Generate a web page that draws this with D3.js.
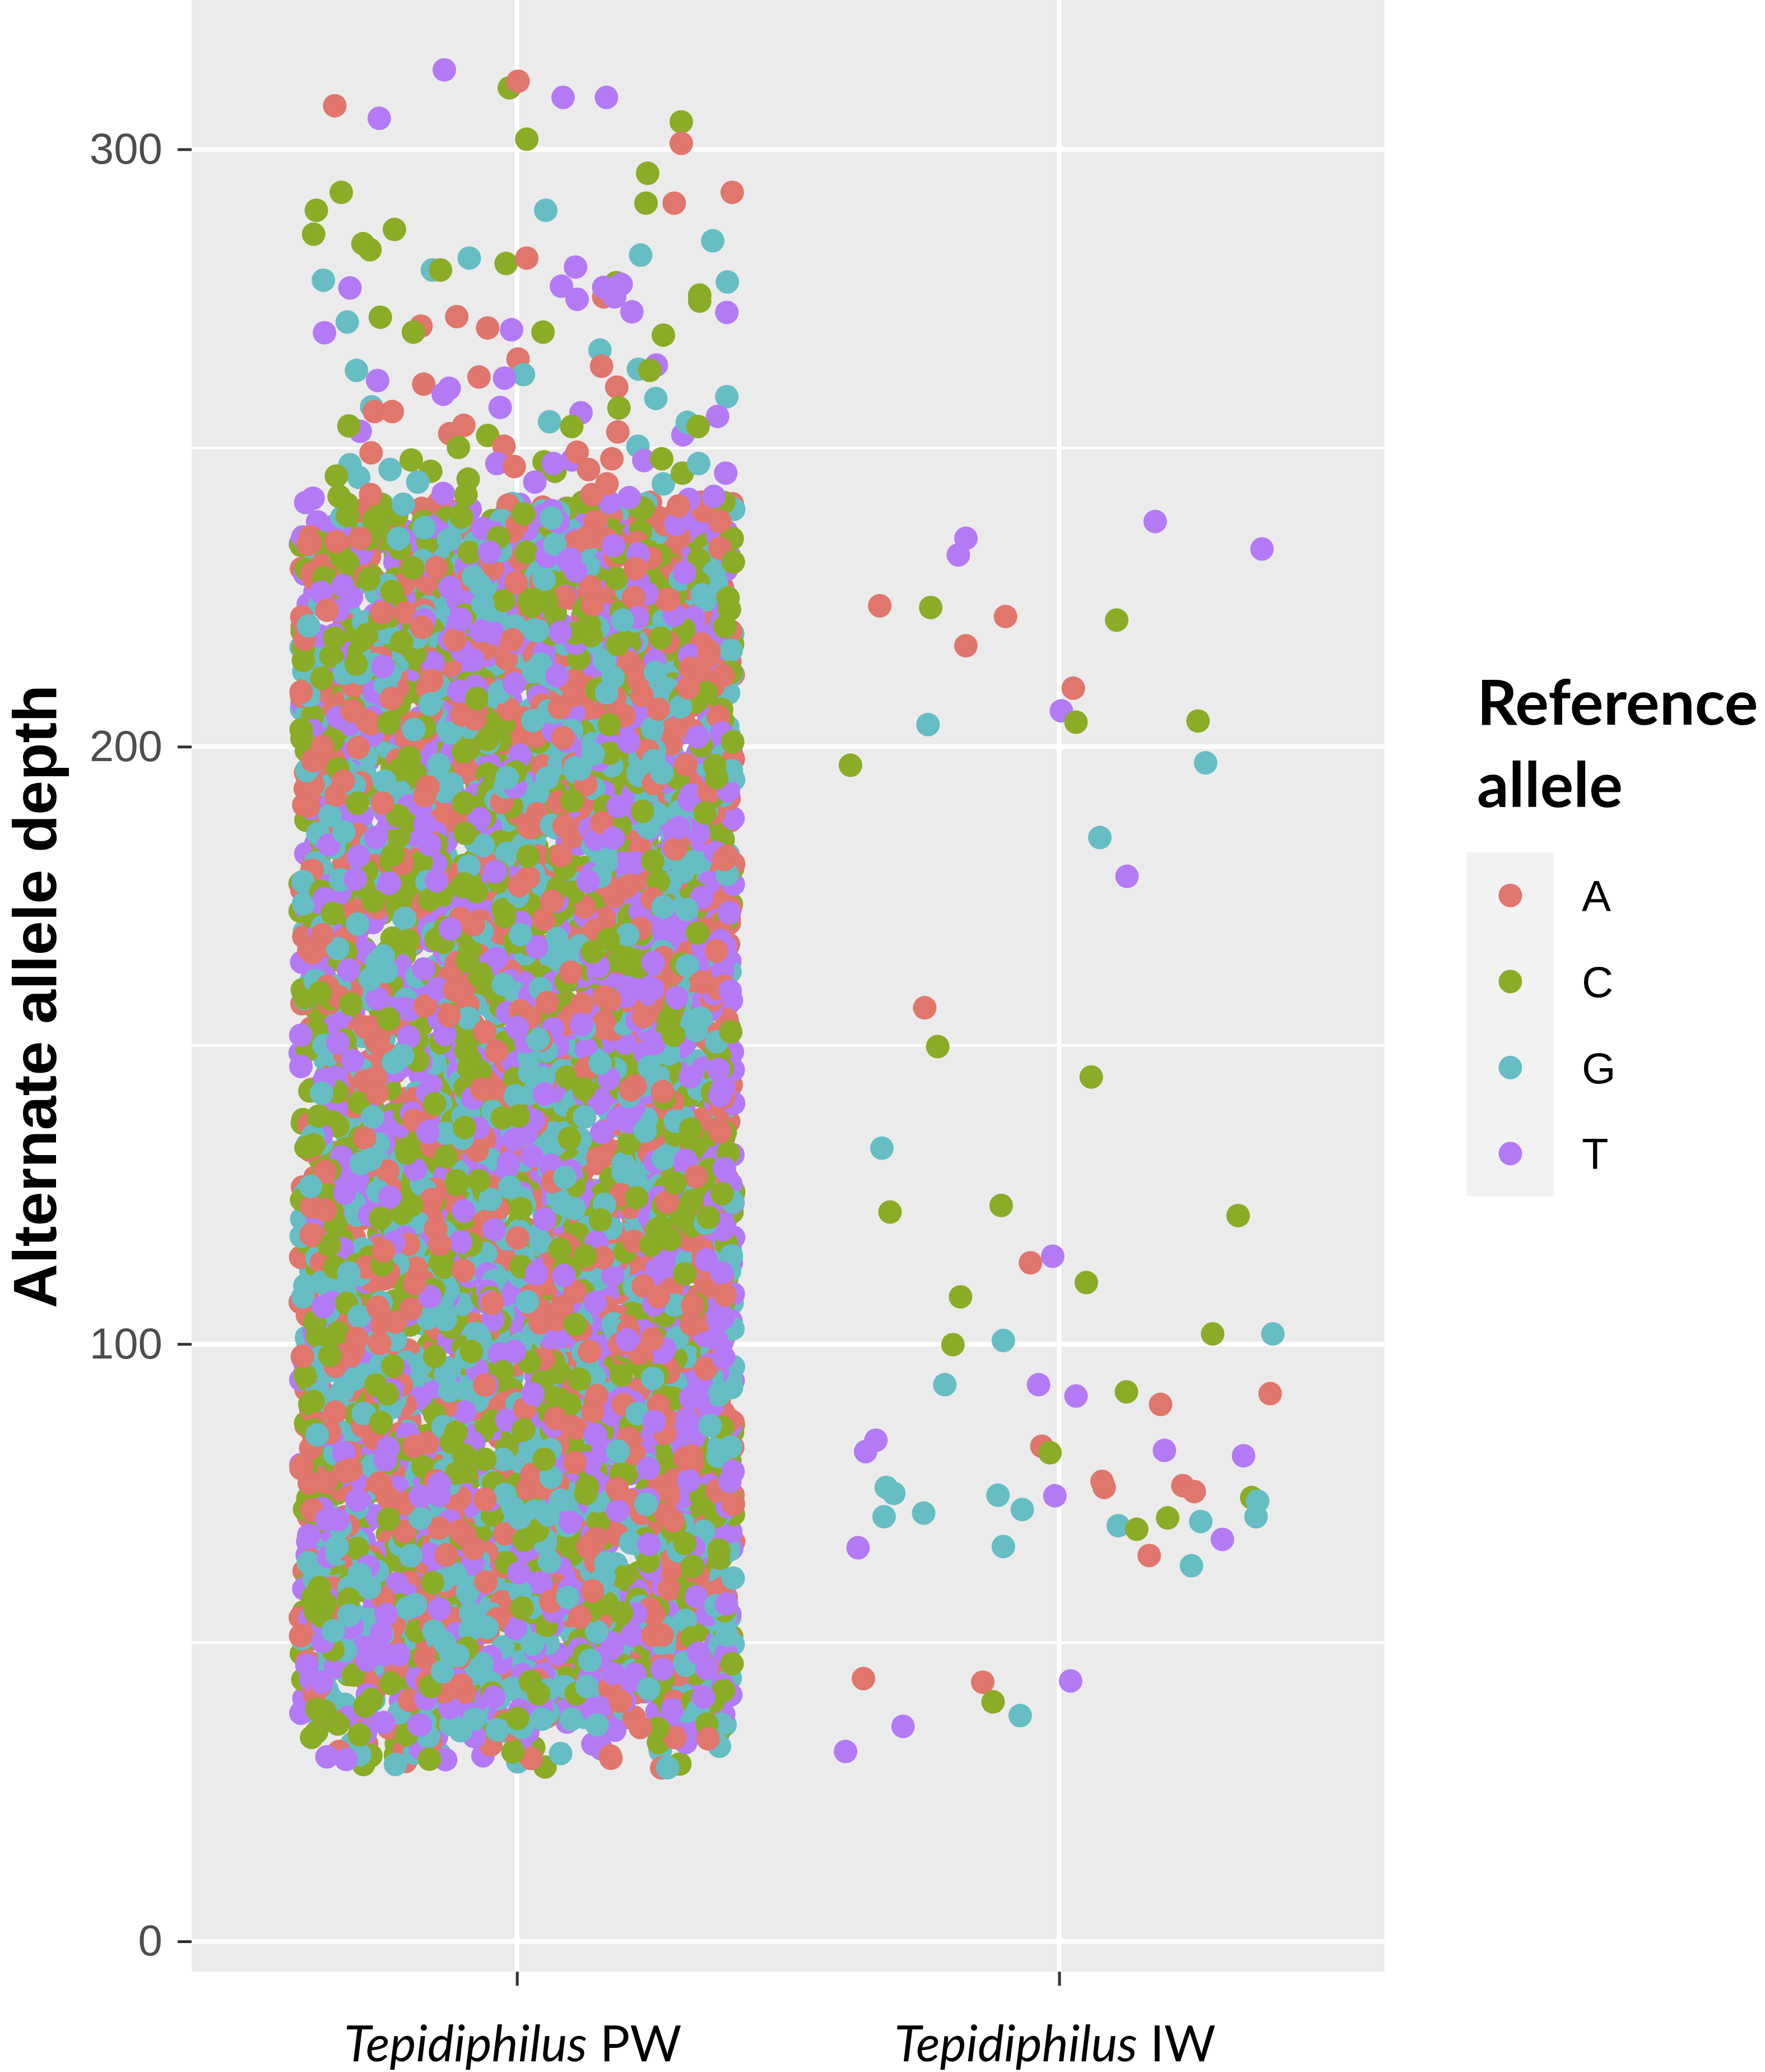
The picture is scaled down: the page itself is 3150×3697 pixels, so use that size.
<!DOCTYPE html>
<html>
<head>
<meta charset="utf-8">
<script src="https://cdn.jsdelivr.net/npm/d3@7"></script>
<style>
  html, body { margin: 0; padding: 0; background: #fff; }
  svg { display: block; }
</style>
</head>
<body>
<div id="chart"></div>
<script>
// ── Data ─────────────────────────────────────────────────────────────────────
const samples      = ["Tepidiphilus PW", "Tepidiphilus IW"];
const alleles      = ["A", "C", "G", "T"];
const alleleColors = ["#E0766C", "#8BAC27", "#66BEC4", "#B47AF6"];
const yTicks       = [0, 100, 200, 300];
const yMinorTicks  = [50, 150, 250];

// PW: the saturated core of the jitter cloud, as SNP counts per depth bin
// (density; the block is solid from ~38 to ~240)
const pwCoreEdges  = [29, 35, 40, 45, 50, 55, 60, 65, 70, 75, 80, 85, 90, 95, 100,
                      105, 110, 115, 120, 125, 130, 135, 140, 145, 150, 155, 160, 165,
                      170, 175, 180, 185, 190, 195, 200, 205, 210, 215, 220, 225, 230,
                      235, 241];
const pwCoreCounts = [50, 115, 165, 165, 165, 165, 165, 165, 165, 165, 165, 165, 165,
                      165, 165, 165, 165, 165, 165, 165, 165, 165, 165, 165, 165, 165,
                      165, 165, 165, 165, 165, 165, 165, 165, 165, 165, 165, 165, 165,
                      165, 165, 160];

// PW: individually visible points above the core [jitter offset, depth, allele]
const pwSparse = [
  [-0.336, 307.3, "A"], [-0.254, 305.2, "T"], [-0.134, 313.3, "T"], [-0.014, 310.3, "C"],
  [0.002, 311.4, "A"], [0.085, 308.7, "T"], [0.165, 308.7, "T"], [0.303, 304.6, "C"],
  [0.303, 301.0, "A"], [0.018, 301.7, "C"], [-0.324, 292.8, "C"], [-0.370, 289.8, "C"],
  [-0.375, 285.8, "C"], [-0.284, 284.2, "C"], [-0.271, 283.2, "C"], [-0.226, 286.6, "C"],
  [0.241, 296.0, "C"], [0.238, 291.0, "C"], [0.290, 291.0, "A"], [0.397, 292.8, "A"],
  [0.053, 289.8, "G"], [0.361, 284.7, "G"], [0.228, 282.3, "G"], [-0.357, 278.1, "G"],
  [-0.308, 276.8, "T"], [-0.156, 279.8, "G"], [-0.141, 279.8, "C"], [-0.088, 281.8, "G"],
  [-0.020, 280.9, "C"], [0.018, 281.8, "A"], [0.108, 280.3, "T"], [0.082, 277.1, "T"],
  [0.111, 274.9, "T"], [0.160, 275.3, "A"], [0.183, 277.7, "C"], [0.160, 276.9, "T"],
  [0.192, 277.4, "T"], [0.180, 275.3, "T"], [0.212, 272.8, "T"], [0.337, 275.6, "C"],
  [0.337, 274.6, "C"], [0.388, 277.8, "G"], [0.387, 272.7, "T"], [-0.355, 269.3, "T"],
  [-0.313, 271.1, "G"], [-0.252, 271.9, "C"], [-0.177, 270.4, "A"], [-0.191, 269.4, "C"],
  [-0.111, 272.0, "A"], [-0.054, 270.1, "A"], [-0.010, 269.8, "T"], [0.048, 269.4, "C"],
  [0.270, 268.9, "C"], [0.153, 266.4, "G"], [0.156, 263.7, "A"], [0.257, 263.9, "T"],
  [0.224, 263.2, "G"], [0.245, 263.0, "C"], [0.002, 264.9, "A"], [0.012, 262.3, "G"],
  [-0.023, 261.7, "T"], [-0.070, 261.9, "A"], [-0.296, 263.0, "G"], [-0.257, 261.3, "T"],
  [-0.172, 260.7, "A"], [-0.136, 259.0, "T"], [-0.125, 260.0, "T"], [0.184, 260.2, "A"],
  [0.256, 258.3, "G"], [0.387, 258.6, "G"], [0.188, 256.7, "C"], [-0.031, 256.8, "T"],
  [-0.268, 256.9, "G"], [-0.263, 256.1, "A"], [-0.230, 256.1, "A"], [0.118, 255.9, "T"],
  [0.060, 254.4, "G"], [0.101, 253.6, "C"], [0.186, 252.7, "A"], [0.370, 255.3, "T"],
  [0.306, 252.2, "T"], [0.314, 254.3, "G"], [0.334, 253.6, "C"], [-0.289, 252.8, "T"],
  [-0.310, 253.7, "C"], [-0.124, 252.4, "A"], [-0.098, 253.8, "A"], [-0.054, 252.1, "C"],
  [-0.024, 250.3, "A"], [-0.108, 250.1, "C"], [-0.269, 249.2, "A"], [-0.308, 247.2, "G"],
  [-0.292, 245.1, "G"], [-0.333, 245.3, "C"], [-0.234, 246.4, "G"], [-0.195, 248.0, "C"],
  [-0.159, 246.1, "C"], [-0.183, 244.3, "G"], [-0.270, 242.2, "A"], [-0.328, 241.9, "C"],
  [-0.136, 242.4, "T"], [-0.090, 244.8, "C"], [-0.094, 242.2, "C"], [-0.037, 247.4, "T"],
  [-0.005, 246.9, "A"], [0.050, 247.7, "C"], [0.070, 246.1, "C"], [0.067, 247.4, "T"],
  [0.102, 248.0, "T"], [0.111, 249.3, "A"], [0.132, 246.4, "A"], [0.175, 248.2, "A"],
  [0.166, 244.0, "A"], [0.138, 242.2, "A"], [0.033, 244.3, "T"], [0.223, 250.3, "G"],
  [0.234, 247.9, "T"], [0.267, 248.2, "C"], [0.270, 244.0, "G"], [0.305, 245.8, "C"],
  [0.335, 247.4, "G"], [0.385, 245.8, "T"], [0.317, 241.4, "T"], [0.363, 241.9, "T"],
  [0.207, 241.7, "T"], [0.298, 240.3, "A"], [-0.376, 241.6, "T"]
];

// IW: every point [jitter offset, depth, allele]
const iwPoints = [
  [0.177, 237.7, "T"], [0.374, 233.1, "T"], [-0.172, 234.9, "T"], [-0.186, 232.1, "T"],
  [-0.331, 223.6, "A"], [-0.237, 223.3, "C"], [-0.099, 221.8, "A"], [0.106, 221.2, "C"],
  [-0.172, 216.9, "A"], [0.026, 209.8, "A"], [0.004, 206.0, "T"], [0.031, 204.1, "C"],
  [0.256, 204.3, "C"], [-0.242, 203.7, "G"], [-0.385, 196.9, "C"], [0.270, 197.3, "G"],
  [0.075, 184.8, "G"], [0.125, 178.3, "T"], [-0.248, 156.3, "A"], [-0.224, 149.8, "C"],
  [0.059, 144.7, "C"], [-0.327, 132.8, "G"], [-0.312, 122.1, "C"], [-0.107, 123.2, "C"],
  [0.330, 121.5, "C"], [-0.053, 113.6, "A"], [-0.012, 114.7, "T"], [0.050, 110.3, "C"],
  [-0.182, 107.9, "C"], [-0.196, 99.9, "C"], [-0.103, 100.6, "G"], [0.394, 101.7, "G"],
  [0.283, 101.7, "C"], [-0.211, 93.2, "G"], [-0.038, 93.2, "T"], [0.031, 91.3, "T"],
  [0.124, 92.0, "C"], [0.187, 89.9, "A"], [0.389, 91.7, "A"], [-0.338, 83.9, "T"],
  [-0.357, 82.0, "T"], [-0.032, 82.9, "A"], [-0.017, 81.8, "C"], [0.194, 82.2, "T"],
  [0.340, 81.3, "T"], [-0.319, 76.0, "G"], [-0.305, 75.0, "G"], [-0.250, 71.7, "G"],
  [-0.323, 71.1, "G"], [-0.113, 74.7, "G"], [-0.068, 72.3, "G"], [-0.008, 74.6, "T"],
  [0.079, 77.0, "A"], [0.083, 76.0, "A"], [0.228, 76.3, "A"], [0.249, 75.3, "A"],
  [0.355, 74.3, "C"], [0.366, 73.7, "G"], [0.363, 71.1, "G"], [0.109, 69.6, "G"],
  [0.143, 69.0, "C"], [0.200, 70.9, "C"], [0.261, 70.3, "G"], [0.301, 67.3, "T"],
  [-0.371, 65.9, "T"], [-0.103, 66.1, "G"], [0.166, 64.6, "A"], [0.244, 62.9, "G"],
  [-0.361, 44.0, "A"], [-0.141, 43.4, "A"], [0.021, 43.6, "T"], [-0.122, 40.1, "C"],
  [-0.072, 37.8, "G"], [-0.288, 36.0, "T"], [-0.394, 31.8, "T"]
];

// ── Layout ──────────────────────────────────────────────────────────────────
const W = 3150, H = 3697;
const P = { l: 342, r: 2471, t: 0, b: 3518 };
const R = 21;               // point radius
const FONT = "Lato, 'Open Sans', sans-serif";
const FONT_TICK = "'Liberation Sans', Arial, sans-serif";

const svg = d3.select("#chart").append("svg")
  .attr("width", W).attr("height", H)
  .attr("viewBox", `0 0 ${W} ${H}`);

const x = d3.scalePoint().domain(samples).range([P.l, P.r]).padding(0.6);
const y = d3.scaleLinear().domain([-5.07, 325]).range([P.b, P.t]);
const color = d3.scaleOrdinal().domain(alleles).range(alleleColors);
const step = x.step();

// panel
svg.append("rect")
  .attr("x", P.l).attr("y", P.t)
  .attr("width", P.r - P.l).attr("height", P.b - P.t)
  .attr("fill", "#EBEBEB");

const grid = svg.append("g");
grid.selectAll(".minor").data(yMinorTicks).join("line")
  .attr("x1", P.l).attr("x2", P.r)
  .attr("y1", d => y(d)).attr("y2", d => y(d))
  .attr("stroke", "#fff").attr("stroke-width", 4.5);
grid.selectAll(".major").data(yTicks).join("line")
  .attr("x1", P.l).attr("x2", P.r)
  .attr("y1", d => y(d)).attr("y2", d => y(d))
  .attr("stroke", "#fff").attr("stroke-width", 8.5);
grid.selectAll(".vmajor").data(samples).join("line")
  .attr("x1", d => x(d)).attr("x2", d => x(d))
  .attr("y1", P.t).attr("y2", P.b)
  .attr("stroke", "#fff").attr("stroke-width", 8.5);

// ── Points ──────────────────────────────────────────────────────────────────
// geom_jitter is random in the source; here the core's jitter comes from a
// fixed integer hash so every render is the same.
function hash01(i, seed) {
  let h = Math.imul((i + 1) ^ seed, 0x9E3779B1);
  h ^= h >>> 15; h = Math.imul(h, 0x85EBCA77);
  h ^= h >>> 13; h = Math.imul(h, 0xC2B2AE3D);
  h ^= h >>> 16;
  return (h >>> 0) / 4294967296;
}

const core = [];
let idx = 0;
pwCoreCounts.forEach((n, b) => {
  const lo = pwCoreEdges[b], hi = pwCoreEdges[b + 1];
  for (let k = 0; k < n; k++, idx++) {
    core.push({
      s: samples[0],
      off: (hash01(idx, 0x1234) - 0.5) * 0.8,
      depth: lo + hash01(idx, 0x5678) * (hi - lo),
      allele: alleles[Math.floor(hash01(idx, 0x9ABC) * 4)]
    });
  }
});
// data order in the source is not by depth, so mix the drawing order
core.sort((a, b) => a.depth * 7.31 % 1 - b.depth * 7.31 % 1);

const pts = core
  .concat(pwSparse.map(d => ({ s: samples[0], off: d[0], depth: d[1], allele: d[2] })))
  .concat(iwPoints.map(d => ({ s: samples[1], off: d[0], depth: d[1], allele: d[2] })));

svg.append("g").selectAll("circle").data(pts).join("circle")
  .attr("cx", d => x(d.s) + d.off * step)
  .attr("cy", d => y(d.depth))
  .attr("r", R)
  .attr("fill", d => color(d.allele));

// ── Axes ────────────────────────────────────────────────────────────────────
const yAxis = svg.append("g")
  .attr("transform", `translate(${P.l},0)`)
  .call(d3.axisLeft(y).tickValues(yTicks).tickSize(25).tickPadding(27));
yAxis.select(".domain").remove();
yAxis.selectAll("line").attr("stroke", "#333").attr("stroke-width", 5);
yAxis.selectAll("text")
  .attr("font-family", FONT_TICK).attr("font-size", 78)
  .attr("fill", "#4D4D4D");

const xAxis = svg.append("g")
  .attr("transform", `translate(0,${P.b})`)
  .call(d3.axisBottom(x).tickSize(25).tickPadding(72));
xAxis.select(".domain").remove();
xAxis.selectAll("line").attr("stroke", "#333").attr("stroke-width", 5);
xAxis.selectAll("text")
  .attr("font-family", FONT).attr("font-size", 89).attr("fill", "#000")
  .attr("dx", -8)
  .each(function(d) {
    const parts = d.split(" ");
    const t = d3.select(this).text(null);
    t.append("tspan").attr("font-style", "italic").text(parts[0]);
    t.append("tspan").text(" " + parts.slice(1).join(" "));
  });

// y title
svg.append("text")
  .attr("transform", `translate(100,${(P.t + P.b) / 2 + 19}) rotate(-90)`)
  .attr("text-anchor", "middle")
  .attr("font-family", FONT_TICK).attr("font-weight", 700).attr("font-size", 110)
  .attr("fill", "#000")
  .text("Alternate allele depth");

// ── Legend ──────────────────────────────────────────────────────────────────
const leg = svg.append("g");
leg.append("text")
  .attr("x", 2636).attr("y", 1293)
  .attr("font-family", FONT).attr("font-weight", 700).attr("font-size", 112)
  .attr("fill", "#000")
  .selectAll("tspan").data(["Reference", "allele"]).join("tspan")
  .attr("x", 2636).attr("dy", (d, i) => i ? 147 : 0)
  .text(d => d);

const KEY = { x: 2618, y: 1521, w: 155, h: 153.5 };
leg.append("rect")
  .attr("x", KEY.x).attr("y", KEY.y)
  .attr("width", KEY.w).attr("height", KEY.h * alleles.length)
  .attr("fill", "#F2F2F2");
leg.selectAll(".key").data(alleles).join("circle")
  .attr("cx", KEY.x + KEY.w / 2)
  .attr("cy", (d, i) => KEY.y + KEY.h * (i + 0.5))
  .attr("r", R)
  .attr("fill", d => color(d));
leg.selectAll(".lab").data(alleles).join("text")
  .attr("x", 2823)
  .attr("y", (d, i) => KEY.y + KEY.h * (i + 0.5) + 28)
  .attr("font-family", FONT_TICK).attr("font-size", 78).attr("fill", "#000")
  .text(d => d);
</script>
</body>
</html>
